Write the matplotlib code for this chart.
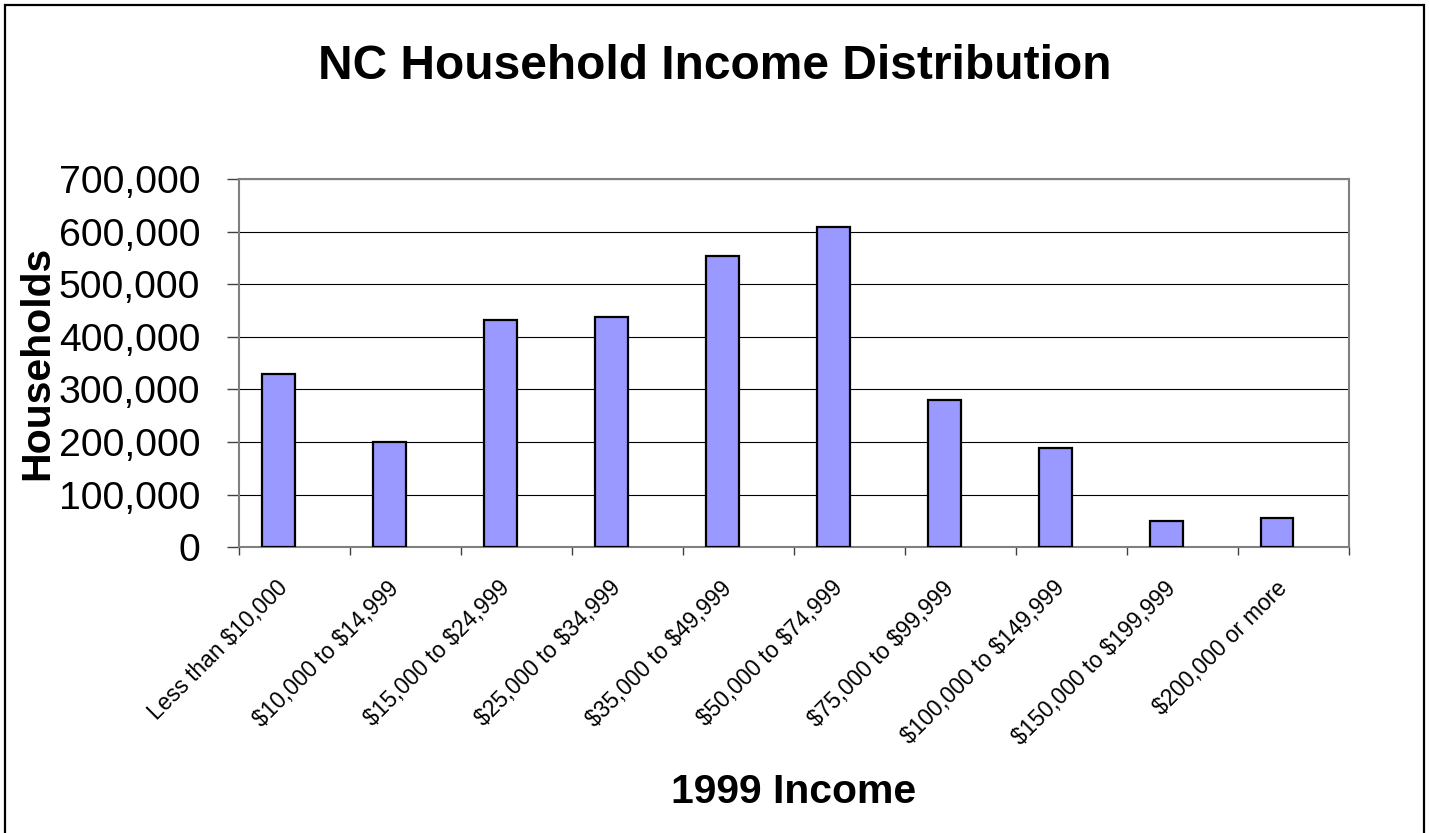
import numpy as np
import matplotlib
matplotlib.use("Agg")
import matplotlib.pyplot as plt
from matplotlib.patches import Rectangle
from matplotlib.ticker import FuncFormatter, FixedLocator
from matplotlib.transforms import ScaledTranslation

plt.rcParams['font.family'] = ['Liberation Sans', 'DejaVu Sans']
plt.rcParams['text.parse_math'] = False

categories = [
    "Less than $10,000", "$10,000 to $14,999", "$15,000 to $24,999",
    "$25,000 to $34,999", "$35,000 to $49,999", "$50,000 to $74,999",
    "$75,000 to $99,999", "$100,000 to $149,999", "$150,000 to $199,999",
    "$200,000 or more",
]
households = [329000, 201000, 432000, 437000, 553500, 609000,
              279500, 189000, 50600, 55700]
y_ticks = [0, 100000, 200000, 300000, 400000, 500000, 600000, 700000]

W, H = 1430, 833
fig = plt.figure(figsize=(W / 100, H / 100), dpi=100)
fig.patch.set_facecolor("white")

# outer chart frame
fig.add_artist(Rectangle((5 / W, -0.01), (1424 - 5) / W, 1 - 5 / H + 0.01,
                         transform=fig.transFigure, fill=False,
                         edgecolor="black", linewidth=1.6))

ax = fig.add_axes([239 / W, 1 - 547.3 / H, (1349 - 239) / W, (547.3 - 179) / H])

x = np.arange(len(categories))
bar_w = 0.29
ax.bar(x - bar_w, households, width=bar_w, align="edge",
       color="#9999FF", edgecolor="black", linewidth=1.6, zorder=3)

ax.set_xlim(-0.5, len(categories) - 0.5)
ax.set_ylim(0, 700000)

ax.set_yticks(y_ticks)
ax.yaxis.set_major_formatter(FuncFormatter(lambda v, p: f"{int(v):,}"))
ax.yaxis.grid(True, color="black", linewidth=0.8, zorder=0)
ax.set_axisbelow(True)
ax.tick_params(axis="y", direction="out", length=8.6, width=1.0,
               color="#404040", labelsize=28.3, pad=19.4)

# category boundary ticks, labels centred under each category
ax.xaxis.set_major_locator(FixedLocator(np.arange(-0.5, len(categories), 1.0)))
ax.set_xticklabels([])
ax.set_xticks(x, minor=True)
ax.set_xticklabels(categories, minor=True, rotation=45, ha="right",
                   va="center", rotation_mode="anchor", fontsize=16.3)
ax.tick_params(axis="x", which="major", direction="out", length=5.8,
               width=1.0, color="#404040")
ax.tick_params(axis="x", which="minor", length=0, pad=27)
shift = ScaledTranslation(-10 / 100, 0, fig.dpi_scale_trans)
for lbl in ax.get_xticklabels(minor=True):
    lbl.set_transform(lbl.get_transform() + shift)

for side in ["left", "bottom", "top", "right"]:
    ax.spines[side].set_color("#808080")
    ax.spines[side].set_linewidth(1.5)

fig.text(0.5, 1 - 79 / H, "NC Household Income Distribution",
         ha="center", va="baseline", fontsize=34.5, fontweight="bold")
fig.text(794 / W, 1 - 803 / H, "1999 Income",
         ha="center", va="baseline", fontsize=29.4, fontweight="bold")
fig.text(37 / W, 1 - 363 / H, "Households", rotation=90,
         ha="center", va="center", fontsize=29.5, fontweight="bold")

fig.savefig("out.png", dpi=100)
